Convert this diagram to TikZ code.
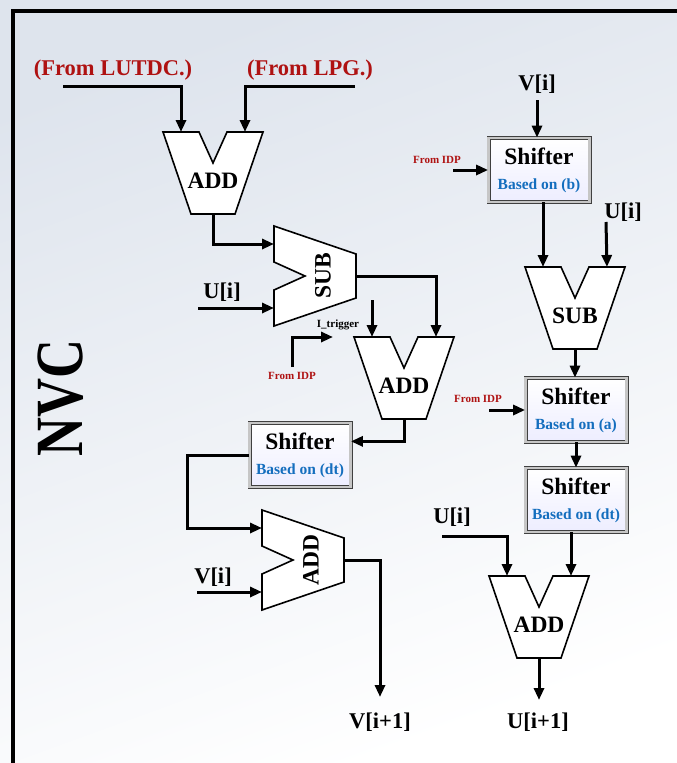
\documentclass[tikz,border=0pt]{standalone}
\usepackage{fontspec}
\setmainfont{Liberation Serif}
\usetikzlibrary{arrows.meta,calc}
\definecolor{lblred}{RGB}{175,18,18}
\definecolor{lblblue}{RGB}{20,110,190}
\definecolor{bgblue}{RGB}{222,228,237}
\tikzset{
 wire/.style={line width=3pt, -{Triangle[length=12pt,width=10pt]}},
 alushape/.style={draw=black, fill=white, line width=1.6pt, line join=miter},
 alutext/.style={font=\fontsize{23.5}{25}\selectfont\bfseries, inner sep=0pt},
 shifterbox/.style={draw=gray!50!black, double=gray!45, double distance=2.4pt, line width=0.8pt,
   top color=white, bottom color=blue!7, minimum width=101pt, minimum height=64pt,
   align=center, inner sep=0pt, font=\fontsize{23.5}{24}\selectfont\bfseries},
 biglbl/.style={font=\fontsize{22.5}{24}\selectfont\bfseries, inner sep=0pt},
 redlbl/.style={biglbl, text=lblred},
 smallred/.style={font=\fontsize{11}{12}\selectfont\bfseries, text=lblred, inner sep=0pt},
 smallblack/.style={font=\fontsize{11}{12}\selectfont\bfseries, inner sep=0pt},
 alu/.pic={
   \draw[alushape] (-50,0) -- (-14,0) -- (0,31) -- (14,0) -- (50,0) -- (22,82) -- (-22,82) -- cycle;
   \node[alutext, transform shape] (-t) at (0,49) {#1};
   \coordinate (-a) at (-32,0);
   \coordinate (-b) at (32,0);
   \coordinate (-o) at (0,82);
 }
}
\newcommand{\shtxt}[1]{Shifter\\[1pt]{\fontsize{15.5}{16}\selectfont\color{lblblue}Based on (#1)}}
\begin{document}
\begin{tikzpicture}[x=1pt,y=-1pt]
\useasboundingbox (0,0) rectangle (677,763);
% background
\shade[top color=bgblue, bottom color=white, shading angle=20] (0,0) rectangle (677,763);
\draw[line width=3.5pt] (13,763) -- (13,11) -- (677,11);

% title
\node[font=\fontsize{54}{56}\selectfont\bfseries, rotate=90, yscale=1.25, inner sep=0pt] (title) at (61,398) {NVC};

% left column ALUs
\pic (add1) at (213,132) {alu=ADD};
\pic[rotate=90] (sub1) at (274,276) {alu=SUB};
\pic (add2) at (404,337) {alu=ADD};
\pic[rotate=90] (add3) at (262,560) {alu=ADD};

% right column ALUs
\pic (sub2) at (575,267) {alu=SUB};
\pic (add4) at (539,576) {alu=ADD};

% shifters
\node[shifterbox] (s1) at (539,170) {\shtxt{b}};
\node[shifterbox] (s2) at (576,410) {\shtxt{a}};
\node[shifterbox] (s3) at (300,455) {\shtxt{dt}};
\node[shifterbox] (s4) at (576,500) {\shtxt{dt}};

% labels
\node[redlbl] (lutdc) at (113,70) {(From LUTDC.)};
\node[redlbl] (lpg) at (310,70) {(From LPG.)};
\node[biglbl] (vlbl1) at (537,84) {V[i]};
\node[biglbl] (ulbl1) at (623,212) {U[i]};
\node[biglbl] (ulbl2) at (222,292) {U[i]};
\node[biglbl] (vlbl2) at (213,577) {V[i]};
\node[biglbl] (ulbl3) at (452,517) {U[i]};
\node[biglbl] (vout) at (380,722) {V[i+1]};
\node[biglbl] (uout) at (538,722) {U[i+1]};
\node[smallred] (idp1) at (437,160) {From IDP};
\node[smallred] (idp2) at (478,399) {From IDP};
\node[smallred] (idp3) at (292,376) {From IDP};
\node[smallblack] (trig) at (338,325) {I\_trigger};

% free ends
\coordinate (lutdcS) at (63,86);
\coordinate (lpgS) at (355,86);
\coordinate (uinL) at (198,308);
\coordinate (vinL) at (197,592);
\coordinate (trigS) at (372,300);
\coordinate (idp3S) at (292,367);
\coordinate (trigTip) at (333,337);
\coordinate (vinR) at (537,100);
\coordinate (idp1S) at (453,170);
\coordinate (uinR) at (606,222);
\coordinate (idp2S) at (489,410);
\coordinate (uinR2) at (442,536);
\coordinate (voutE) at (380,697);
\coordinate (uoutE) at (539,700);

% connectors left
\draw[wire] (lutdcS) -| (add1-a);
\draw[wire] (lpgS) -| (add1-b);
\draw[wire] (add1-o) |- (sub1-b);
\draw[wire] (uinL) -- (sub1-a);
\draw[wire] (sub1-o) -| (add2-b);
\draw[wire] (trigS) -- (add2-a);
\draw[wire] (idp3S) |- (trigTip);
\draw[wire] (add2-o) |- (s3.15);
\draw[wire] (s3.west) -- ++(-62,0) |- (add3-b);
\draw[wire] (vinL) -- (add3-a);
\draw[wire] (add3-o) -| (voutE);

% connectors right
\draw[wire] (vinR) -- (vinR |- s1.north);
\draw[wire] (idp1S) -- (s1.west);
\draw[wire] (s1.south -| sub2-a) -- (sub2-a);
\draw[wire] (uinR) -- (sub2-b);
\draw[wire] (sub2-o) -- (sub2-o |- s2.north);
\draw[wire] (idp2S) -- (s2.west);
\draw[wire] (s2.south) -- (s4.north);
\draw[wire] (s4.south -| add4-b) -- (add4-b);
\draw[wire] (uinR2) -| (add4-a);
\draw[wire] (add4-o) -- (uoutE);
\end{tikzpicture}
\end{document}
